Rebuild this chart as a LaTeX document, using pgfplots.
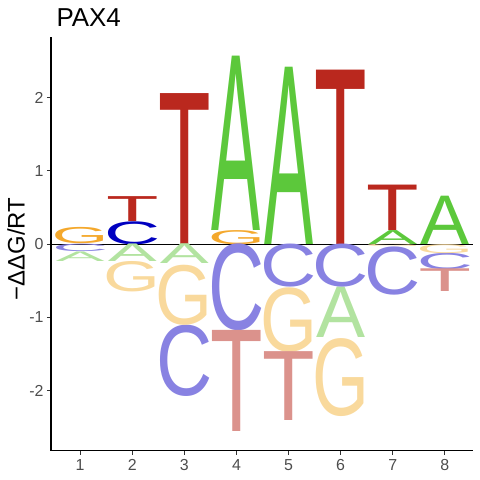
\documentclass[border=0pt]{standalone}
\usepackage{pgfplots}
\pgfplotsset{compat=1.18}
\usepackage{pgfplotstable}
\usepackage{graphicx}
\usepackage{fontspec}
\setmainfont{Liberation Sans}
\definecolor{pA}{HTML}{5CC83B}
\definecolor{pC}{HTML}{0000C0}
\definecolor{pG}{HTML}{F4A82C}
\definecolor{pT}{HTML}{BA281E}
\definecolor{nA}{HTML}{B2E3A0}
\definecolor{nC}{HTML}{8882E2}
\definecolor{nG}{HTML}{F9D99C}
\definecolor{nT}{HTML}{DB928C}
\definecolor{ticktext}{HTML}{4D4D4D}
\newlength\myyu \setlength\myyu{73.22bp}
\newlength\mylw \setlength\mylw{49bp}
\newlength\myhh
\newcommand\LA{\makebox[0.667em]{A}}
\newcommand\LC{\makebox[0.63em]{C}}
\newcommand\LG{\makebox[0.67em]{G}}
\newcommand\LT{\makebox[0.57em]{T}}
\newcommand\logoletter[2]{\setlength\myhh{#2\myyu}\resizebox{\mylw}{\myhh}{#1}}
\pgfplotstableread{
x y h
4 0.19 2.38
5 0 2.42
7 0 0.19
8 0 0.66
}\posA
\pgfplotstableread{
x y h
2 0 0.31
}\posC
\pgfplotstableread{
x y h
1 0.01 0.22
4 0 0.19
}\posG
\pgfplotstableread{
x y h
2 0.31 0.34
3 0 2.06
6 0 2.38
7 0.19 0.62
}\posT
\pgfplotstableread{
x y h
1 -0.23 0.13
2 -0.24 0.24
3 -0.27 0.27
6 -1.28 0.69
}\negA
\pgfplotstableread{
x y h
1 -0.10 0.10
3 -2.06 0.96
4 -1.17 1.17
5 -0.58 0.58
6 -0.58 0.58
7 -0.68 0.65
8 -0.34 0.22
}\negC
\pgfplotstableread{
x y h
2 -0.65 0.41
3 -1.09 0.81
5 -1.46 0.87
6 -2.34 1.05
7 -0.03 0.03
8 -0.12 0.12
}\negG
\pgfplotstableread{
x y h
4 -2.56 1.38
5 -2.41 0.94
8 -0.65 0.31
}\negT
\pgfplotsset{logo/.style 2 args={draw=none, mark=none,
  point meta=explicit symbolic,
  nodes near coords={\logoletter{#1}{\pgfplotspointmeta}},
  every node near coord/.append style={anchor=base, inner sep=0pt, outer sep=0pt, text=#2}}}
\begin{document}
\begin{tikzpicture}
\path[use as bounding box] (0,0) rectangle (480bp,480bp);
\begin{axis}[
  at={(51bp,29.3bp)}, anchor=south west,
  scale only axis, width=422bp, height=413.7bp,
  xmin=0.44, xmax=8.54, ymin=-2.82, ymax=2.83,
  axis x line*=bottom, axis y line*=left,
  axis line style={line width=1.1bp, black},
  xtick={1,...,8}, ytick={-2,-1,0,1,2},
  xticklabels={1,2,3,4,5,6,7,8},
  yticklabels={-2,-1,0,1,2},
  tick align=outside, major tick length=4bp,
  tick style={line width=1bp, color=black!80},
  tick label style={font=\fontsize{16}{16}\selectfont, text=ticktext},
  xticklabel style={yshift=-1bp},
  ylabel={−ΔΔG/RT},
  every axis y label/.style={at={(axis description cs:-0.083,0.4875)}, rotate=90, anchor=center, font=\fontsize{24}{24}\selectfont},
  clip=false,
]
\addplot[logo={\LA}{pA}] table[x=x,y=y,meta=h] {\posA};
\addplot[logo={\LC}{pC}] table[x=x,y=y,meta=h] {\posC};
\addplot[logo={\LG}{pG}] table[x=x,y=y,meta=h] {\posG};
\addplot[logo={\LT}{pT}] table[x=x,y=y,meta=h] {\posT};
\addplot[logo={\LA}{nA}] table[x=x,y=y,meta=h] {\negA};
\addplot[logo={\LC}{nC}] table[x=x,y=y,meta=h] {\negC};
\addplot[logo={\LG}{nG}] table[x=x,y=y,meta=h] {\negG};
\addplot[logo={\LT}{nT}] table[x=x,y=y,meta=h] {\negT};
\addplot[black, line width=0.9bp, mark=none] coordinates {(0.44,0) (8.54,0)};
\end{axis}
\node[anchor=base west, font=\fontsize{26}{26}\selectfont] at (53bp,453.3bp) {PAX4};
\end{tikzpicture}
\end{document}
